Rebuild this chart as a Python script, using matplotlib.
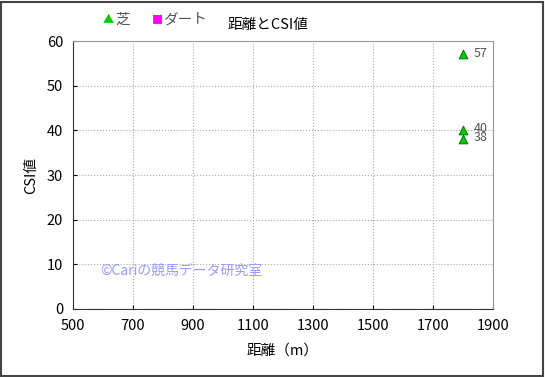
import matplotlib.pyplot as plt
from matplotlib.patches import Rectangle

plt.rcParams['font.family'] = ['Noto Sans CJK JP', 'DejaVu Sans']

# data
turf_dist = [1800, 1800, 1800]
turf_csi = [57, 40, 38]
dirt_dist = []
dirt_csi = []
xticks = [500, 700, 900, 1100, 1300, 1500, 1700, 1900]
yticks = [0, 10, 20, 30, 40, 50, 60]

fig = plt.figure(figsize=(5.45, 3.77), dpi=100)
ax = fig.add_axes([73 / 545, 68 / 377, 420 / 545, 268 / 377])

ax.scatter(turf_dist, turf_csi, marker='^', s=40, color='#00cc00',
           edgecolors='#006600', linewidths=0.6, zorder=3)
ax.scatter(dirt_dist, dirt_csi, marker='s', s=40, color='#ff00ff', zorder=3)
for x, y in zip(turf_dist, turf_csi):
    ax.text(x + 35, y + 0.3, str(y), fontsize=9, color='#555555', va='center', ha='left')

ax.set_xlim(500, 1900)
ax.set_ylim(0, 60)
ax.set_xticks(xticks)
ax.set_yticks(yticks)
ax.tick_params(direction='in', length=3, labelsize=10.5, colors='black', pad=7)
ax.grid(True, linestyle=':', color='#aaaaaa', linewidth=0.8)
for side in ['top', 'right']:
    ax.spines[side].set_color('#999999')
for side in ['left', 'bottom']:
    ax.spines[side].set_color('#333333')

ax.set_xlabel('距離（m）', fontsize=10.5, labelpad=8)
ax.set_ylabel('CSI値', fontsize=10.5, labelpad=6)

fig.text(268 / 545, 1 - 25 / 377, '距離とCSI値', ha='center', va='center', fontsize=10.5)
fig.text(103 / 545, 1 - 20 / 377, '▲', color='#00cc00', fontsize=8, ha='left', va='center')
fig.text(115 / 545, 1 - 20 / 377, '芝', color='#555555', fontsize=10.5, ha='left', va='center')
fig.text(152 / 545, 1 - 20 / 377, '■', color='#ff00ff', fontsize=8, ha='left', va='center')
fig.text(163 / 545, 1 - 20 / 377, 'ダート', color='#555555', fontsize=10.5, ha='left', va='center')

ax.text(100 / 545, 1 - 271 / 377, '©Cariの競馬データ研究室', transform=fig.transFigure,
        color='#9999ff', fontsize=10, ha='left', va='center')

fig.patches.append(Rectangle((1 / 545, 1 / 377), 542 / 545, 374 / 377, transform=fig.transFigure,
                             fill=False, edgecolor='#444444', linewidth=1.5))

fig.savefig('out.png', dpi=100)
